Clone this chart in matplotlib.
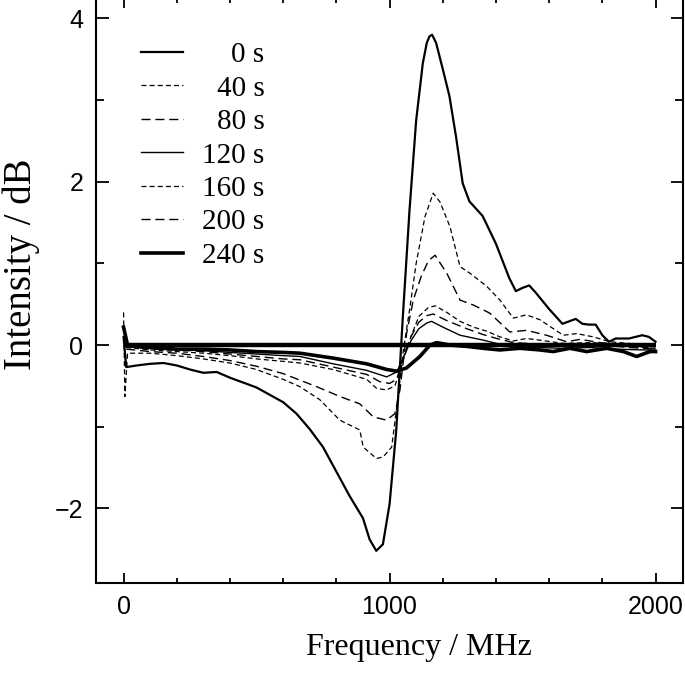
import matplotlib
matplotlib.use("Agg")
import matplotlib.pyplot as plt
from matplotlib.ticker import MultipleLocator

# values (frequency in MHz, intensity in dB)
f_0 = [0, 10, 50, 100, 150, 200, 250, 300, 350, 400, 450, 500, 550, 600, 650, 700,
       750, 800, 850, 900, 925, 950, 975, 1000, 1025, 1050, 1075, 1100, 1125, 1140,
       1150, 1160, 1175, 1200, 1225, 1250, 1275, 1300, 1350, 1400, 1450, 1475, 1500,
       1525, 1550, 1600, 1650, 1675, 1700, 1725, 1750, 1775, 1800, 1825, 1850, 1900,
       1950, 1975, 2000]
i_0 = [0.10, -0.27, -0.25, -0.23, -0.22, -0.25, -0.30, -0.34, -0.33, -0.40, -0.46,
       -0.52, -0.61, -0.70, -0.84, -1.03, -1.25, -1.55, -1.85, -2.12, -2.38, -2.52,
       -2.44, -1.95, -1.05, 0.35, 1.65, 2.75, 3.45, 3.70, 3.78, 3.80, 3.70, 3.38,
       3.05, 2.55, 1.98, 1.76, 1.58, 1.24, 0.82, 0.66, 0.70, 0.73, 0.64, 0.44, 0.26,
       0.29, 0.32, 0.26, 0.25, 0.25, 0.12, 0.04, 0.08, 0.08, 0.12, 0.10, 0.04]

f_40 = [0, 5, 15, 100, 200, 300, 400, 500, 600, 663, 738, 813, 888, 901, 951, 976,
        1008, 1027, 1052, 1077, 1100, 1133, 1164, 1190, 1227, 1265, 1302, 1365, 1415,
        1465, 1515, 1565, 1653, 1703, 1766, 1829, 1900, 2000]
i_40 = [0.40, -0.63, -0.10, -0.10, -0.13, -0.17, -0.22, -0.30, -0.42, -0.51, -0.67,
        -0.92, -1.04, -1.25, -1.39, -1.37, -1.25, -0.76, -0.06, 0.47, 1.00, 1.57,
        1.86, 1.75, 1.45, 0.96, 0.88, 0.72, 0.55, 0.33, 0.37, 0.31, 0.12, 0.14, 0.10,
        0.04, 0.02, -0.02]

f_80 = [10, 100, 200, 300, 400, 500, 600, 663, 726, 813, 888, 939, 989, 1020, 1039,
        1064, 1089, 1120, 1146, 1171, 1215, 1265, 1315, 1377, 1452, 1515, 1590, 1666,
        1716, 1791, 1900, 2000]
i_80 = [-0.05, -0.08, -0.10, -0.14, -0.19, -0.26, -0.35, -0.43, -0.51, -0.63, -0.72,
        -0.88, -0.92, -0.84, -0.55, 0.14, 0.55, 0.85, 1.03, 1.10, 0.88, 0.55, 0.49,
        0.39, 0.16, 0.18, 0.12, 0.04, 0.07, 0.03, 0.00, -0.04]

f_120 = [10, 100, 200, 300, 400, 500, 600, 663, 788, 914, 989, 1027, 1052, 1080, 1110,
         1140, 1158, 1200, 1265, 1352, 1452, 1550, 1650, 1750, 1850, 1950, 2000]
i_120 = [-0.02, -0.03, -0.05, -0.07, -0.09, -0.11, -0.13, -0.14, -0.23, -0.31, -0.39,
         -0.33, -0.15, 0.05, 0.20, 0.27, 0.29, 0.22, 0.12, 0.06, -0.02, -0.03, -0.04,
         -0.03, -0.05, -0.06, -0.06]

f_160 = [10, 100, 200, 300, 400, 500, 600, 663, 788, 914, 951, 989, 1020, 1050, 1080,
         1110, 1146, 1172, 1215, 1265, 1315, 1365, 1415, 1465, 1515, 1565, 1653, 1766,
         1900, 2000]
i_160 = [-0.03, -0.06, -0.08, -0.10, -0.13, -0.17, -0.20, -0.22, -0.30, -0.42, -0.53,
         -0.55, -0.50, -0.20, 0.10, 0.35, 0.46, 0.48, 0.40, 0.29, 0.22, 0.17, 0.10,
         0.05, 0.08, 0.06, 0.02, 0.03, -0.02, -0.04]

f_200 = [10, 100, 200, 300, 400, 500, 600, 663, 788, 914, 964, 1000, 1027, 1052, 1080,
         1110, 1140, 1164, 1215, 1290, 1350, 1403, 1465, 1515, 1600, 1700, 1800, 1900,
         2000]
i_200 = [-0.02, -0.05, -0.06, -0.08, -0.11, -0.14, -0.17, -0.18, -0.27, -0.36, -0.45,
         -0.47, -0.42, -0.15, 0.10, 0.28, 0.36, 0.38, 0.30, 0.20, 0.13, 0.08, 0.03,
         0.02, 0.00, -0.01, 0.00, -0.03, -0.05]

f_240 = [0, 15, 100, 200, 300, 400, 500, 600, 663, 788, 914, 990, 1027, 1064, 1114,
         1152, 1177, 1227, 1300, 1351, 1414, 1490, 1565, 1615, 1678, 1741, 1816, 1879,
         1929, 1979, 2000]
i_240 = [0.22, 0.00, -0.03, -0.05, -0.05, -0.06, -0.08, -0.09, -0.10, -0.16, -0.23,
         -0.30, -0.32, -0.28, -0.14, 0.00, 0.03, 0.00, -0.02, -0.04, -0.06, -0.04,
         -0.06, -0.08, -0.04, -0.08, -0.04, -0.08, -0.14, -0.08, -0.08]

labels = ['0 s', '40 s', '80 s', '120 s', '160 s', '200 s', '240 s']
serif = 'Liberation Serif'
sans = 'Liberation Sans'

fig = plt.figure(figsize=(6.85, 6.75), dpi=100)
# top edge sits just past the picture, as in the original
ax = fig.add_axes([0.140, 0.1363, 0.857, 0.8667])

# zero reference line
ax.hlines(0, min(f_0), max(f_0), color='black', lw=3.2)

ax.plot(f_0, i_0, color='black', lw=1.6, label=labels[0])
ax.plot(f_40, i_40, color='black', lw=0.9, ls=(0, (4, 2.5)), label=labels[1])
ax.plot(f_80, i_80, color='black', lw=1.0, ls=(0, (6.5, 3.5)), label=labels[2])
ax.plot(f_120, i_120, color='black', lw=1.0, label=labels[3])
ax.plot(f_160, i_160, color='black', lw=0.9, ls=(0, (4, 2.5)), label=labels[4])
ax.plot(f_200, i_200, color='black', lw=1.0, ls=(0, (6.5, 3.5)), label=labels[5])
ax.plot(f_240, i_240, color='black', lw=2.6, label=labels[6])

ax.set_xlim(-104, 2103)
ax.set_ylim(-2.914, 4.25)

ax.xaxis.set_major_locator(MultipleLocator(1000))
ax.xaxis.set_minor_locator(MultipleLocator(200))
ax.yaxis.set_major_locator(MultipleLocator(2))
ax.yaxis.set_minor_locator(MultipleLocator(1))
ax.tick_params(which='both', direction='in', top=True, right=True, width=1.3,
               colors='black')
ax.tick_params(axis='x', which='major', length=7, pad=9)
ax.tick_params(axis='x', which='minor', length=3.5)
ax.tick_params(axis='y', which='major', length=9, pad=9)
ax.tick_params(axis='y', which='minor', length=6)
for t in ax.get_xticklabels() + ax.get_yticklabels():
    t.set_fontfamily(sans)
    t.set_fontsize(18)
for s in ax.spines.values():
    s.set_linewidth(1.5)

ax.set_xlabel('Frequency / MHz', fontfamily=serif, fontsize=23)
ax.set_ylabel('Intensity / dB', fontfamily=serif, fontsize=28)
ax.xaxis.set_label_coords(0.55, -0.085)
ax.yaxis.set_label_coords(-0.096, 0.545)

leg = ax.legend(loc='upper left', bbox_to_anchor=(0.077, 0.925), frameon=False,
                prop={'family': serif, 'size': 21}, handlelength=1.45,
                handletextpad=0.65, labelspacing=0.24, borderpad=0, borderaxespad=0)
# right-align the legend labels
fig.canvas.draw()
renderer = fig.canvas.get_renderer()
widths = [t.get_window_extent(renderer).width for t in leg.get_texts()]
shift = max(widths)
for t, w in zip(leg.get_texts(), widths):
    t.set_position((shift - w, 0))

fig.savefig('out.png', dpi=100)
